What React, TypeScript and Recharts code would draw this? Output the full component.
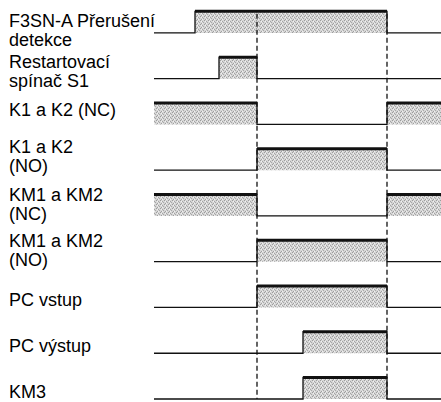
import React from "react";
import { ComposedChart, Area, Line, XAxis, YAxis, ReferenceLine } from "recharts";

// time points of the transitions (arbitrary time units)
const times = [0, 41, 65, 103, 149, 233, 287];

// signal labels (top to bottom)
const signalLabels: string[][] = [
  ["F3SN-A Přerušení", "detekce"],
  ["Restartovací", "spínač S1"],
  ["K1 a K2 (NC)"],
  ["K1 a K2", "(NO)"],
  ["KM1 a KM2", "(NC)"],
  ["KM1 a KM2", "(NO)"],
  ["PC vstup"],
  ["PC výstup"],
  ["KM3"],
];

// logic levels at each time point (stepAfter)
const f3snBreak = [0, 1, 1, 1, 1, 0, 0];
const restartS1 = [0, 0, 1, 0, 0, 0, 0];
const k1k2NC = [1, 1, 1, 0, 0, 1, 1];
const k1k2NO = [0, 0, 0, 1, 1, 0, 0];
const km12NC = [1, 1, 1, 0, 0, 1, 1];
const km12NO = [0, 0, 0, 1, 1, 0, 0];
const pcInput = [0, 0, 0, 1, 1, 0, 0];
const pcOutput = [0, 0, 0, 0, 1, 0, 0];
const km3 = [0, 0, 0, 0, 1, 0, 0];

// dashed marker times
const markerTimes = [103, 233];

const levels = [f3snBreak, restartS1, k1k2NC, k1k2NO, km12NC, km12NO, pcInput, pcOutput, km3];
const ROWS = levels.length;
const HIGH = 0.47;
const rowBase = (i: number) => ROWS - 1 - i;
const rowBases = levels.map((_, i) => rowBase(i));

// layout of labels (pixel offsets from each row's baseline)
const labelDy = [-6, -11, -8, -17, -15, -15, -1, -1, -1];
const LINE_GAP = 19;
const FONT = "'Liberation Sans', Arial, Helvetica, sans-serif";

const data = times.map((t, k) => {
  const row: Record<string, number | null> = { t };
  levels.forEach((lv, i) => {
    const b = rowBase(i);
    row[`s${i}`] = b + lv[k] * HIGH;
    row[`h${i}`] = lv[k] === 1 || (k > 0 && lv[k - 1] === 1) ? b + HIGH : null;
  });
  return row;
});

const LabelTick = (props: any) => {
  const { y, payload } = props;
  const i = ROWS - 1 - Math.round(payload.value);
  const lines = signalLabels[i];
  if (!lines) return null;
  return (
    <text x={9} y={y + labelDy[i]} fontSize={18} fontFamily={FONT} fill="#000" textAnchor="start">
      {lines.map((l, j) => (
        <tspan key={j} x={9} dy={j === 0 ? 0 : LINE_GAP}>
          {l}
        </tspan>
      ))}
    </text>
  );
};

export default function App() {
  return (
    <div style={{ position: "absolute", left: 0, top: 0, width: 441, height: 402, background: "#fff" }}>
      <ComposedChart width={441} height={402} data={data} margin={{ top: 10, right: 0, bottom: 3, left: 0 }}>
        <defs>
          <pattern id="dots" patternUnits="userSpaceOnUse" width="4" height="4">
            <rect x="0" y="0" width="4" height="4" fill="#d6d6d6" />
            <rect x="0" y="0" width="1" height="1" fill="#9c9c9c" />
            <rect x="2" y="1" width="1" height="1" fill="#a4a4a4" />
            <rect x="1" y="3" width="1" height="1" fill="#a0a0a0" />
            <rect x="3" y="2" width="1" height="1" fill="#a8a8a8" />
            <rect x="2" y="3" width="1" height="1" fill="#f0f0f0" />
            <rect x="1" y="1" width="1" height="1" fill="#f2f2f2" />
          </pattern>
        </defs>
        <XAxis type="number" dataKey="t" domain={[0, 287]} hide />
        <YAxis
          type="number"
          domain={[0, ROWS - 0.5]}
          ticks={rowBases}
          interval={0}
          width={154}
          axisLine={false}
          tickLine={false}
          tick={<LabelTick />}
        />
        {levels.map((_, i) => (
          <Area
            key={`a${i}`}
            type="stepAfter"
            dataKey={`s${i}`}
            baseValue={rowBase(i)}
            fill="url(#dots)"
            fillOpacity={1}
            stroke="#111"
            strokeWidth={1.3}
            dot={false}
            activeDot={false}
            isAnimationActive={false}
          />
        ))}
        {markerTimes.map((mt) => (
          <ReferenceLine
            key={`m${mt}`}
            segment={[
              { x: mt, y: rowBase(0) + HIGH - 0.05 },
              { x: mt, y: 0 },
            ]}
            stroke="#111"
            strokeWidth={1.3}
            strokeDasharray="5 3"
            ifOverflow="visible"
          />
        ))}
        {levels.map((_, i) => (
          <Line
            key={`l${i}`}
            type="stepAfter"
            dataKey={`h${i}`}
            stroke="#111"
            strokeWidth={3}
            dot={false}
            activeDot={false}
            connectNulls={false}
            isAnimationActive={false}
          />
        ))}
      </ComposedChart>
    </div>
  );
}
